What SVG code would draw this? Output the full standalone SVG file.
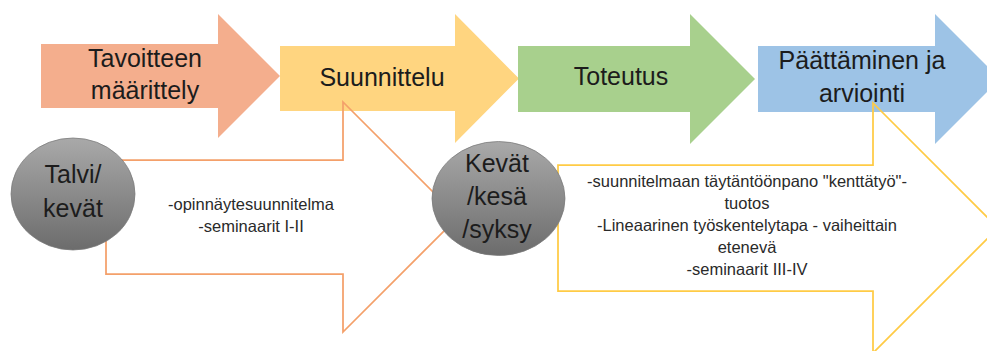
<svg xmlns="http://www.w3.org/2000/svg" width="987" height="351" viewBox="0 0 987 351">
  <defs>
    <linearGradient id="gray" x1="0" y1="0" x2="0" y2="1">
      <stop offset="0" stop-color="#A9A9A9"/>
      <stop offset="1" stop-color="#6C6C6C"/>
    </linearGradient>
    <style>
      .lbl { font-family: "Liberation Sans", Arial, sans-serif; font-size: 25px; fill: #1c1c1c; text-anchor: middle; }
      .small { font-family: "Liberation Sans", Arial, sans-serif; font-size: 16.5px; fill: #2a2a2a; text-anchor: middle; }
      .circle { fill: url(#gray); stroke: #7a7a7a; stroke-width: 0.75; }
      .outline { fill: none; stroke-width: 1.75; stroke-linejoin: miter; }
    </style>
  </defs>
  <rect width="987" height="351" fill="#ffffff"/>

  <g id="step-tavoitteen">
    <polygon points="41,44 218,44 218,14 280,76 218,138 218,108 41,108" fill="#F4AE8D"/>
    <text class="lbl" x="145" y="67">Tavoitteen</text>
    <text class="lbl" x="145" y="99">määrittely</text>
  </g>
  <g id="step-suunnittelu">
    <polygon points="280,46 455,46 455,14 519,78.5 455,143 455,111 280,111" fill="#FFD580"/>
    <text class="lbl" x="382" y="86">Suunnittelu</text>
  </g>
  <g id="step-toteutus">
    <polygon points="518,46 690,46 690,14 755,79 690,144 690,112 518,112" fill="#A8D08D"/>
    <text class="lbl" x="621" y="85">Toteutus</text>
  </g>
  <g id="step-paattaminen">
    <polygon points="758,46 935,46 935,14 1000,79 935,144 935,112 758,112" fill="#9DC3E6"/>
    <text class="lbl" x="862" y="69">Päättäminen ja</text>
    <text class="lbl" x="862" y="102">arviointi</text>
  </g>

  <g id="connectors">
    <polygon class="outline" stroke="#F4A06A" points="106,160 343,160 343,102 458,217 343,332 343,274 106,274"/>
    <polygon class="outline" stroke="#FFCB45" points="558,165 873,165 873,103 998,228 873,353 873,291 558,291"/>
  </g>

  <g id="phase1-text">
    <text class="small" x="251" y="210">-opinnäytesuunnitelma</text>
    <text class="small" x="251" y="232">-seminaarit I-II</text>
  </g>
  <g id="phase2-text">
    <text class="small" x="747" y="187">-suunnitelmaan täytäntöönpano "kenttätyö"-</text>
    <text class="small" x="747" y="209">tuotos</text>
    <text class="small" x="747" y="231">-Lineaarinen työskentelytapa - vaiheittain</text>
    <text class="small" x="747" y="253">etenevä</text>
    <text class="small" x="747" y="275">-seminaarit III-IV</text>
  </g>

  <g id="period-talvi">
    <ellipse class="circle" cx="73" cy="194" rx="62" ry="56"/>
    <text class="lbl" x="73" y="183">Talvi/</text>
    <text class="lbl" x="73" y="217">kevät</text>
  </g>
  <g id="period-kevat">
    <ellipse class="circle" cx="498.5" cy="198.5" rx="66.5" ry="57"/>
    <text class="lbl" x="497" y="172">Kevät</text>
    <text class="lbl" x="497" y="205">/kesä</text>
    <text class="lbl" x="497" y="238">/syksy</text>
  </g>
</svg>
